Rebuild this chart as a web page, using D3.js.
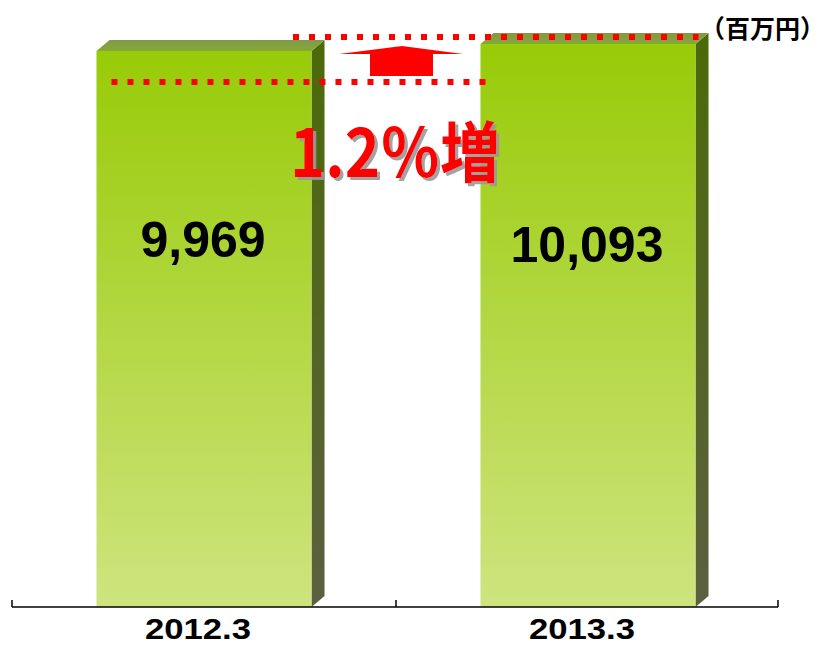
<!DOCTYPE html>
<html>
<head>
<meta charset="utf-8">
<script src="https://cdn.jsdelivr.net/npm/d3@7"></script>
<style>
  body { margin: 0; background: #fff; }
  svg { display: block; }
</style>
</head>
<body>
<div id="chart"></div>
<script>
// data
const categories = ["2012.3", "2013.3"];
const values = [9969, 10093];
const valueLabels = ["9,969", "10,093"];
const unitLabel = "（百万円）";
const growthLabel = "1.2％増";

const width = 827, height = 647;
const baseY = 607;
const depthX = 13, depthY = 11;

const svg = d3.select("#chart").append("svg")
    .attr("width", width)
    .attr("height", height);

const defs = svg.append("defs");
const front = defs.append("linearGradient").attr("id", "front")
    .attr("x1", 0).attr("y1", 0).attr("x2", 0).attr("y2", 1);
front.append("stop").attr("offset", "0%").attr("stop-color", "#98cb08");
front.append("stop").attr("offset", "100%").attr("stop-color", "#cee47e");
const side = defs.append("linearGradient").attr("id", "side")
    .attr("x1", 0).attr("y1", 0).attr("x2", 0).attr("y2", 1);
side.append("stop").attr("offset", "0%").attr("stop-color", "#4c6a08");
side.append("stop").attr("offset", "100%").attr("stop-color", "#5c5f40");
const topG = defs.append("linearGradient").attr("id", "topface")
    .attr("x1", 0).attr("y1", 0).attr("x2", 0).attr("y2", 1);
topG.append("stop").attr("offset", "0%").attr("stop-color", "#7f9a48");
topG.append("stop").attr("offset", "100%").attr("stop-color", "#86a838");
defs.append("filter").attr("id", "shadow")
    .attr("x", "-10%").attr("y", "-10%").attr("width", "130%").attr("height", "130%")
  .append("feDropShadow")
    .attr("dx", 3).attr("dy", 3).attr("stdDeviation", 0.6)
    .attr("flood-color", "#999999").attr("flood-opacity", 0.9);

const x = d3.scaleBand().domain(categories).range([12, 780]);
const y = d3.scaleLinear().domain([0, d3.max(values)]).range([baseY, 44]);
const barW = x.bandwidth() * 0.56;
const bx = c => x(c) + (x.bandwidth() - barW) / 2;

const rows = categories.map((c, i) => ({ c, v: values[i], label: valueLabels[i] }));

const bars = svg.append("g").selectAll("g").data(rows).join("g");

// side face
bars.append("path")
    .attr("fill", "url(#side)")
    .attr("d", d => {
      const x0 = bx(d.c) + barW, t = y(d.v);
      return `M${x0},${t}L${x0 + depthX},${t - depthY}L${x0 + depthX},${baseY - depthY}L${x0},${baseY}Z`;
    });
// top face
bars.append("path")
    .attr("fill", "url(#topface)")
    .attr("d", d => {
      const x0 = bx(d.c), t = y(d.v);
      return `M${x0},${t}L${x0 + depthX},${t - depthY}L${x0 + barW + depthX},${t - depthY}L${x0 + barW},${t}Z`;
    });
// front face
bars.append("rect")
    .attr("x", d => bx(d.c))
    .attr("y", d => y(d.v))
    .attr("width", barW)
    .attr("height", d => baseY - y(d.v))
    .attr("fill", "url(#front)");

bars.append("text")
    .attr("x", d => x(d.c) + x.bandwidth() / 2 - 1)
    .attr("y", (d, i) => i === 0 ? 257 : 262)
    .attr("text-anchor", "middle")
    .attr("font-family", "Liberation Sans, Arial, sans-serif")
    .attr("font-weight", "bold")
    .attr("font-size", 50)
    .attr("fill", "#000")
    .text(d => d.label);

// axis
const axis = svg.append("g");
axis.append("line")
    .attr("x1", x.range()[0]).attr("x2", x.range()[1] - 2)
    .attr("y1", baseY).attr("y2", baseY)
    .attr("stroke", "#000").attr("stroke-width", 1.5);
const tickXs = [x.range()[0], x(categories[1]), x.range()[1] - 2];
axis.selectAll(".tick").data(tickXs).join("line")
    .attr("x1", d => d).attr("x2", d => d)
    .attr("y1", baseY - 7).attr("y2", baseY)
    .attr("stroke", "#000").attr("stroke-width", 1.5);
axis.selectAll("text").data(categories).join("text")
    .attr("x", d => x(d) + x.bandwidth() / 2 - 6)
    .attr("y", 639)
    .attr("text-anchor", "middle")
    .attr("font-family", "Liberation Sans, Arial, sans-serif")
    .attr("font-weight", "bold")
    .attr("font-size", 29)
    .attr("textLength", 106)
    .attr("lengthAdjust", "spacingAndGlyphs")
    .text(d => d);

// annotation: dotted lines + arrow
const ann = svg.append("g");
const y1 = y(values[0]) + 31, y2 = y(values[1]) - 7;
ann.append("line")
    .attr("x1", bx(categories[0]) + 15).attr("x2", bx(categories[1]) + 7)
    .attr("y1", y1).attr("y2", y1)
    .attr("stroke", "#ff0000").attr("stroke-width", 6)
    .attr("stroke-dasharray", "6,10");
ann.append("line")
    .attr("x1", 293).attr("x2", bx(categories[1]) + barW + 3)
    .attr("y1", y2).attr("y2", y2)
    .attr("stroke", "#ff0000").attr("stroke-width", 6)
    .attr("stroke-dasharray", "6,10");
ann.append("path")
    .attr("fill", "#ff0000")
    .attr("d", "M339,54L402,46L463,54L433,54L433,76L370,76L370,54Z");

// growth label with shadow
svg.append("text")
    .attr("x", 290).attr("y", 177)
    .attr("font-family", "Noto Sans CJK JP, sans-serif")
    .attr("font-weight", "bold")
    .attr("font-size", 66)
    .attr("fill", "#ff0000")
    .attr("filter", "url(#shadow)")
    .attr("textLength", 210)
    .attr("lengthAdjust", "spacingAndGlyphs")
    .text(growthLabel);

// unit
svg.append("text")
    .attr("x", 700).attr("y", 38)
    .attr("font-family", "Noto Sans CJK JP, sans-serif")
    .attr("font-weight", "bold")
    .attr("font-size", 25)
    .attr("fill", "#000")
    .attr("textLength", 125)
    .attr("lengthAdjust", "spacingAndGlyphs")
    .text(unitLabel);
</script>
</body>
</html>
